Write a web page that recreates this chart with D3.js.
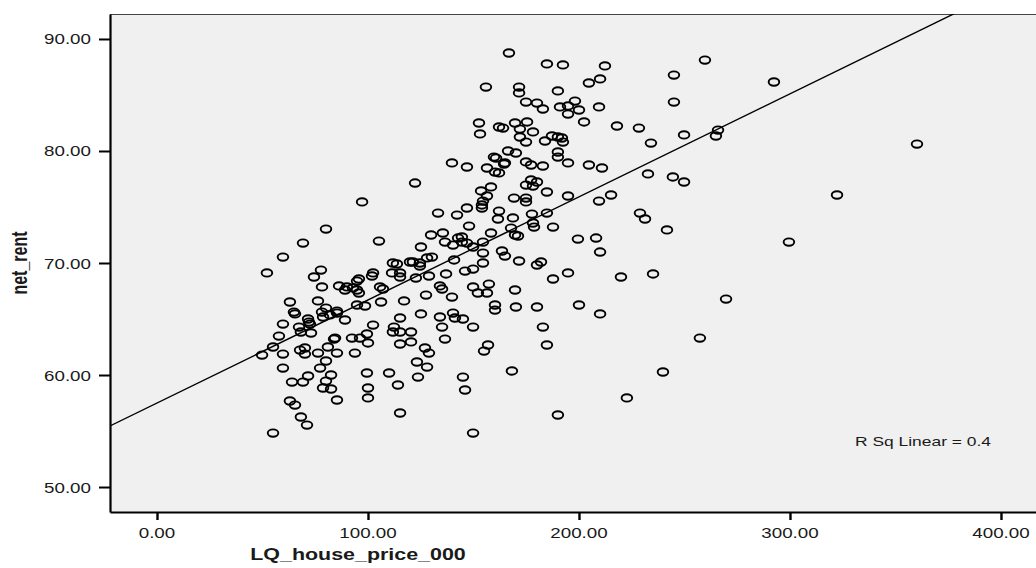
<!DOCTYPE html>
<html>
<head>
<meta charset="utf-8">
<script src="https://cdn.jsdelivr.net/npm/d3@7"></script>
<style>
  body { margin: 0; background: #fff; }
  svg { display: block; }
  text { font-family: "Liberation Sans", Arial, sans-serif; fill: #1a1a1a; }
</style>
</head>
<body>
<div id="chart"></div>
<script>
// values (LQ_house_price_000 vs net_rent)
var housePrice = [
  166.8,184.8,192.4,212.3,259.7,245.0,292.4,155.9,171.6,171.6,190.0,204.7,210.0,174.9,180.1,182.9,191.0,194.8,198.1,200.0,
  194.8,209.5,245.0,152.6,153.1,162.1,164.0,169.7,175.4,172.0,178.2,172.0,174.9,183.9,187.2,190.0,191.9,192.4,202.4,218.0,
  228.4,234.1,249.8,265.9,264.9,360.2,190.0,190.0,166.4,170.1,159.7,160.7,164.9,164.5,139.8,146.9,156.4,160.2,162.1,174.9,
  177.3,182.9,194.8,204.7,210.9,232.7,244.5,249.8,122.3,158.3,153.6,156.4,154.5,154.0,154.0,177.3,180.1,174.9,178.2,174.9,
  174.9,169.2,184.8,194.8,209.5,215.2,322.3,97.2,162.1,161.6,168.7,177.7,178.2,184.8,133.2,142.2,146.9,228.9,231.3,147.9,
  187.7,241.7,80.1,167.8,158.3,169.7,171.1,178.7,69.2,105.2,129.9,135.5,136.5,140.3,142.7,144.5,144.5,146.9,149.8,154.5,
  154.5,154.5,125.1,199.5,208.1,299.5,210.0,163.5,164.9,59.7,171.6,180.1,182.0,194.8,187.7,219.9,235.1,52.1,77.7,74.4,
  111.8,113.7,119.9,121.3,124.6,124.6,128.0,130.3,140.8,146.0,149.8,137.0,128.9,122.7,111.4,115.2,115.2,102.4,101.9,78.2,
  86.3,90.0,89.1,92.9,95.7,94.8,95.7,94.8,105.7,107.1,134.1,135.1,127.5,139.8,149.8,152.1,156.4,157.3,169.7,63.0,
  76.3,106.2,94.8,98.6,117.1,160.2,160.2,170.1,180.1,200.0,210.0,269.7,64.9,65.4,71.6,72.0,72.5,78.2,80.1,78.7,
  82.0,85.3,85.3,89.1,59.7,67.3,68.2,73.0,57.8,102.4,112.3,111.8,115.2,120.4,115.2,125.1,134.1,135.1,140.3,141.2,
  145.0,149.8,182.9,84.4,83.9,92.4,96.2,99.5,100.0,55.0,49.8,59.7,67.8,70.1,70.1,76.3,81.0,85.3,93.8,80.1,
  115.2,120.4,127.0,128.9,136.5,156.9,155.0,184.8,257.3,123.2,128.0,59.7,77.3,99.5,110.0,145.0,168.2,239.8,71.6,82.5,
  123.7,64.0,69.2,80.1,78.7,82.5,114.2,100.0,100.0,85.3,63.0,65.4,68.2,71.1,55.0,115.2,146.0,149.8,222.7,190.0
];
var netRent = [
  88.75,87.77,87.68,87.59,88.12,86.78,86.16,85.71,85.71,85.18,85.36,86.07,86.43,84.37,84.28,83.75,83.93,84.02,84.46,83.66,
  83.30,83.93,84.37,82.50,81.52,82.14,82.05,82.50,82.59,81.96,81.70,81.25,80.80,80.89,81.34,81.25,81.16,80.80,82.59,82.23,
  82.05,80.71,81.43,81.87,81.34,80.62,79.91,79.46,80.00,79.82,79.46,79.37,78.93,78.84,78.93,78.57,78.48,78.12,78.04,79.02,
  78.75,78.66,78.93,78.75,78.48,77.95,77.68,77.23,77.14,76.79,76.43,75.98,75.53,75.18,74.91,77.41,77.23,76.96,76.87,75.80,
  75.45,75.80,76.34,75.98,75.53,76.07,76.07,75.45,74.64,73.93,74.02,74.37,73.57,74.46,74.46,74.28,74.91,74.46,73.93,73.30,
  73.21,72.95,73.03,73.12,72.68,72.50,72.41,73.21,71.78,71.96,72.50,72.68,71.87,71.60,72.23,72.32,71.87,71.78,71.43,71.87,
  70.89,70.00,71.43,72.14,72.23,71.87,70.98,71.07,70.62,70.53,70.18,69.82,70.09,69.11,68.57,68.75,69.02,69.11,69.37,68.75,
  70.00,69.91,70.09,70.09,70.00,69.73,70.45,70.53,70.27,69.28,69.46,69.02,68.84,68.66,69.11,69.11,68.75,69.11,68.84,67.86,
  67.95,67.86,67.59,67.77,68.57,68.39,67.32,67.59,67.86,67.68,67.95,67.68,67.14,66.96,67.86,67.32,67.32,68.12,67.59,66.52,
  66.61,66.52,66.25,66.16,66.61,66.25,65.80,66.07,66.07,66.25,65.45,66.78,65.62,65.45,65.00,64.73,64.55,65.62,65.98,65.18,
  65.36,65.71,65.53,64.91,64.55,64.28,63.84,63.75,63.48,64.46,64.28,63.84,63.84,63.84,65.09,65.45,65.18,64.28,65.53,65.09,
  65.00,64.28,64.28,63.30,63.21,63.30,63.30,63.66,62.86,62.50,61.78,61.87,62.23,62.41,61.87,61.96,62.50,61.96,61.96,61.25,
  62.77,62.95,62.41,61.96,63.21,62.68,62.14,62.68,63.30,61.16,60.71,60.62,60.62,60.18,60.18,59.82,60.36,60.27,59.91,60.00,
  59.82,59.37,59.37,59.46,58.84,58.75,59.11,58.84,57.95,57.77,57.68,57.32,56.25,55.53,54.82,56.61,58.66,54.82,57.95,56.43
];
var xTicks = [0, 100, 200, 300, 400];
var yTicks = [50, 60, 70, 80, 90];
// fit line as drawn in the picture
var fitIntercept = 57.5;
var fitSlope = 0.092;
var rSqLabel = 'R Sq Linear = 0.4';

var width = 1036, height = 568;
var plotLeft = 110, plotTop = 14, plotBottom = 512, plotRight = 1036;
var stretch = 1.34; // the source picture is widened horizontally

var svg = d3.select('#chart').append('svg')
  .attr('width', width)
  .attr('height', height);

var x = d3.scaleLinear().domain([-22.27, 416.6]).range([plotLeft, plotRight]);
var y = d3.scaleLinear().domain([47.77, 92.23]).range([plotBottom, plotTop]);

svg.append('defs').append('clipPath').attr('id', 'plotclip')
  .append('rect')
  .attr('x', plotLeft).attr('y', plotTop)
  .attr('width', plotRight - plotLeft).attr('height', plotBottom - plotTop);

svg.append('rect')
  .attr('x', plotLeft).attr('y', plotTop)
  .attr('width', plotRight - plotLeft).attr('height', plotBottom - plotTop)
  .attr('fill', '#f0f0f0');

// top border
svg.append('line')
  .attr('x1', plotLeft).attr('x2', plotRight)
  .attr('y1', plotTop + 0.5).attr('y2', plotTop + 0.5)
  .attr('stroke', '#444').attr('stroke-width', 1.2);

var plot = svg.append('g').attr('clip-path', 'url(#plotclip)');

// regression line
var x0 = x.domain()[0], x1 = x.domain()[1];
plot.append('line')
  .attr('x1', x(x0)).attr('y1', y(fitIntercept + fitSlope * x0))
  .attr('x2', x(x1)).attr('y2', y(fitIntercept + fitSlope * x1))
  .attr('stroke', '#000').attr('stroke-width', 1.4);

var pts = housePrice.map(function(d, i) { return [d, netRent[i]]; });
plot.selectAll('ellipse').data(pts).enter()
  .append('ellipse')
  .attr('cx', function(d) { return x(d[0]); })
  .attr('cy', function(d) { return y(d[1]); })
  .attr('rx', 5.3)
  .attr('ry', 3.7)
  .attr('fill', 'none')
  .attr('stroke', '#000')
  .attr('stroke-width', 1.9);

// axes
var xAxis = svg.append('g')
  .attr('transform', 'translate(0,' + plotBottom + ')')
  .call(d3.axisBottom(x).tickValues(xTicks).tickSize(8).tickSizeOuter(0).tickFormat(''));
var yAxis = svg.append('g')
  .attr('transform', 'translate(' + plotLeft + ',0)')
  .call(d3.axisLeft(y).tickValues(yTicks).tickSize(11).tickSizeOuter(0).tickFormat(''));

xAxis.select('.domain').attr('stroke', '#000').attr('stroke-width', 2);
yAxis.select('.domain').attr('stroke', '#000').attr('stroke-width', 2.2);
xAxis.selectAll('.tick line').attr('stroke', '#000').attr('stroke-width', 2.4);
yAxis.selectAll('.tick line').attr('stroke', '#000').attr('stroke-width', 2);

function stretchedText(g, tx, ty, str, size, weight, anchor) {
  return g.append('text')
    .attr('transform', 'translate(' + tx + ',' + ty + ') scale(' + stretch + ',1)')
    .attr('text-anchor', anchor)
    .style('font-size', size + 'px')
    .style('font-weight', weight)
    .text(str);
}

var labels = svg.append('g');
xTicks.forEach(function(t) {
  stretchedText(labels, x(t), 538, d3.format('.2f')(t), 14, 'normal', 'middle');
});
yTicks.forEach(function(t) {
  stretchedText(labels, 91, y(t) + 5.5, d3.format('.2f')(t), 14, 'normal', 'end');
});

stretchedText(labels, 358, 560, 'LQ_house_price_000', 16, 'bold', 'middle');

labels.append('text')
  .attr('transform', 'translate(27,' + ((plotTop + plotBottom) / 2) + ') rotate(-90) scale(1,' + stretch + ')')
  .attr('text-anchor', 'middle')
  .style('font-size', '16px')
  .style('font-weight', 'bold')
  .text('net_rent');

stretchedText(labels, 855, 446, rSqLabel, 13, 'normal', 'start');
</script>
</body>
</html>
